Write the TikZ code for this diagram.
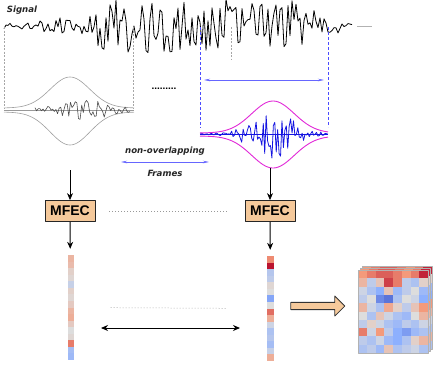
\documentclass[tikz,border=0pt]{standalone}
\usepackage{fontspec}
\setmainfont{Liberation Sans}
\newfontfamily\djv{DejaVu Sans}
\usetikzlibrary{arrows.meta,shapes.arrows}
\definecolor{cwblue}{RGB}{59,76,192}
\definecolor{cwlblue}{RGB}{141,176,254}
\definecolor{cwgrey}{RGB}{221,221,221}
\definecolor{cworange}{RGB}{244,154,123}
\definecolor{cwred}{RGB}{180,4,38}
\definecolor{boxfill}{RGB}{245,201,155}
\definecolor{wblue}{RGB}{20,20,225}
\definecolor{env}{RGB}{225,40,215}
\newcommand{\setcell}[1]{%
  \pgfmathsetmacro\cwa{abs(#1)}%
  \pgfmathtruncatemacro\cwlo{min(100,200*\cwa)}%
  \pgfmathtruncatemacro\cwhi{max(0,200*\cwa-100)}%
  \ifdim#1pt<0pt \colorlet{cc}{cwblue!\cwhi!cwlblue!\cwlo!cwgrey}%
  \else \colorlet{cc}{cwred!\cwhi!cworange!\cwlo!cwgrey}\fi}
\tikzset{lbl/.style={font=\djv\bfseries\itshape\fontsize{8.6}{10}\selectfont,text=black!85,inner sep=1pt},
  mfec/.style={draw=black!85,fill=boxfill,thick,minimum width=50pt,minimum height=21pt,inner sep=2pt,font=\bfseries\fontsize{14}{16}\selectfont},
  flow/.style={line width=0.9pt,-{Stealth[length=7pt,width=6pt]}},
  bluearr/.style={blue!60,line width=0.7pt,{Stealth[length=6pt,width=2.5pt]}-{Stealth[length=6pt,width=2.5pt]}},
  gdash/.style={gray!70,dashed,dash pattern=on 2pt off 1.5pt,line width=0.5pt},
  bdash/.style={blue!70,dashed,dash pattern=on 3pt off 2pt,line width=0.7pt},
  dotline/.style={gray!80,dash pattern=on 1pt off 2pt,line width=0.5pt},
  vec/.style={minimum width=6pt,minimum height=105pt,inner sep=0pt},
  declare function={ramp(\a,\b,\t)=min(1,max(0,(\t-\a)/(\b-\a)));
    sigenv(\t)=3+6*ramp(35,45,\t)*(1-ramp(335,345,\t))+18*ramp(85,105,\t)*(1-ramp(305,325,\t));}}

\begin{document}
\begin{tikzpicture}[x=1pt,y=-1pt,line join=round]
  \useasboundingbox (0,0) rectangle (441,386);
  \pgfmathsetseed{4711}
  % signal
  \draw[line width=0.8pt] plot[domain=4:352,samples=175] (\x,{26-sigenv(\x)*rand});
  \draw[gray!60,line width=1pt] (357,26) -- (372,26);
  \node[lbl] (signal) at (22,10) {Signal};
  % frame edges
  \draw[gdash] (4,27) -- (4,108);
  \draw[gdash] (133,27) -- (133,108);
  \draw[gdash] (231,27) -- (231,60);
  \draw[bdash] (200,27) -- (200,128);
  \draw[bdash] (328,27) -- (328,127);
  \coordinate (wa) at (204,80);
  \coordinate (wb) at (324,80);
  \draw[bluearr] (wa) -- (wb);
  % left frame
  \draw[gray!75,line width=0.6pt] plot[domain=4:134,samples=60,smooth] (\x,{108-31*exp(-((\x-70)/28)^2)});
  \draw[gray!75,line width=0.6pt] plot[domain=4:134,samples=60,smooth] (\x,{112+33*exp(-((\x-70)/28)^2)});
  \draw[gray!80,line width=0.6pt] (4,110) -- (134,110);
  \draw[gray!60!black,line width=0.6pt] plot[domain=35:130,samples=60] (\x,{110-(2+8*exp(-((\x-85)/30)^2))*rand});
  \node (dots) at (164,88.5) {\bfseries .........};
  % right frame
  \draw[wblue,line width=1pt] (200,134) -- (328,134);
  \draw[wblue,line width=0.8pt] plot[domain=200:328,samples=90] (\x,{134-(1+24*exp(-((\x-272)/28)^2))*rand});
  \draw[env,line width=0.9pt] plot[domain=200:328,samples=60,smooth] (\x,{133-32*exp(-((\x-273)/30)^2)});
  \draw[env,line width=0.9pt] plot[domain=200:328,samples=60,smooth] (\x,{136+32*exp(-((\x-273)/30)^2)});
  % frames label
  \node[lbl] (nonov) at (165,151) {non-overlapping};
  \coordinate (fa) at (121,162);
  \coordinate (fb) at (209,162);
  \draw[bluearr] (fa) -- (fb);
  \node[lbl] (frames) at (165,173) {Frames};
  % MFEC
  \coordinate (lfr) at (70,170);
  \coordinate (rfr) at (270,168);
  \node[mfec] (lmfec) at (70,211) {MFEC};
  \node[mfec] (rmfec) at (270,211) {MFEC};
  \draw[flow] (lfr) -- (lmfec);
  \draw[flow] (rfr) -- (rmfec);
  \draw[dotline,shorten <=14pt,shorten >=18pt] (lmfec) -- (rmfec);
  % feature vectors
  \node[vec] (lvec) at (70.5,307.5) {};
  \node[vec] (rvec) at (270.5,308.5) {};
  \foreach \v [count=\i from 0] in {0.3,0.25,0.1,0.05,-0.15,0.1,0.05,0.15,0.3,0.35,0.15,0,0.05,0.6,-0.35,-0.4}{
    \setcell{\v}
    \fill[cc] (67.5,255+\i*6.5625) rectangle ++(6,6.5625);}
  \foreach \v [count=\i from 0] in {0.55,0.95,-0.25,-0.2,0.05,0,-0.55,0,0.65,0.35,-0.1,-0.3,-0.25,-0.35,-0.15,0.35}{
    \setcell{\v}
    \fill[cc] (267,256+\i*6.5625) rectangle ++(7,6.5625);}
  \draw[flow,shorten >=6pt] (lmfec) -- (lvec);
  \draw[flow,shorten >=6pt] (rmfec) -- (rvec);
  \draw[dotline,shorten <=37pt,shorten >=40pt] (lvec) -- (rvec);
  \coordinate (da) at (101,328);
  \coordinate (db) at (240,328);
  \draw[line width=0.9pt,{Stealth[length=7pt,width=6pt]}-{Stealth[length=7pt,width=6pt]}] (da) -- (db);
  % block arrow
  \node[single arrow,draw=black!80,fill=boxfill,line width=0.8pt,minimum height=54pt,minimum width=20pt,
    inner sep=3pt,single arrow head extend=6pt] (blk) at (316,306) {};
  % stacked feature map
  \foreach \o in {4,2,0}{
    \foreach \row [count=\r from 0] in {{0.5,0.6,0.7,0.7,0.6,0.5,0.6,0.9},{0.3,-0.2,0.2,0.8,0.6,-0.2,-0.3,0.1},
      {-0.1,-0.3,-0.5,0.2,-0.4,-0.2,0,-0.4},{-0.2,0,-0.7,-0.8,-0.3,0,-0.1,-0.5},{0.3,-0.1,-0.3,0.4,0.1,-0.2,0.2,0.5},
      {0,-0.3,0.2,-0.1,-0.3,-0.4,0,0.3},{-0.2,0.1,-0.1,-0.3,-0.4,-0.2,-0.3,-0.1},{0.6,-0.1,0.5,-0.2,-0.5,-0.6,-0.4,-0.3},
      {-0.2,-0.3,-0.1,-0.4,-0.5,-0.3,0.1,0.3},{-0.3,-0.2,-0.4,0.2,-0.3,-0.2,-0.1,-0.3}}{
      \foreach \v [count=\c from 0] in \row{
        \setcell{\v}
        \fill[cc] (358+\o+\c*8.75,270-\o+\r*8.3) rectangle ++(8.75,8.3);}}
    \draw[gray!60,line width=0.4pt] (358+\o,270-\o) rectangle ++(70,83);}
  \node[minimum width=70pt,minimum height=83pt] (hmap) at (393,311.5) {};
\end{tikzpicture}
\end{document}
